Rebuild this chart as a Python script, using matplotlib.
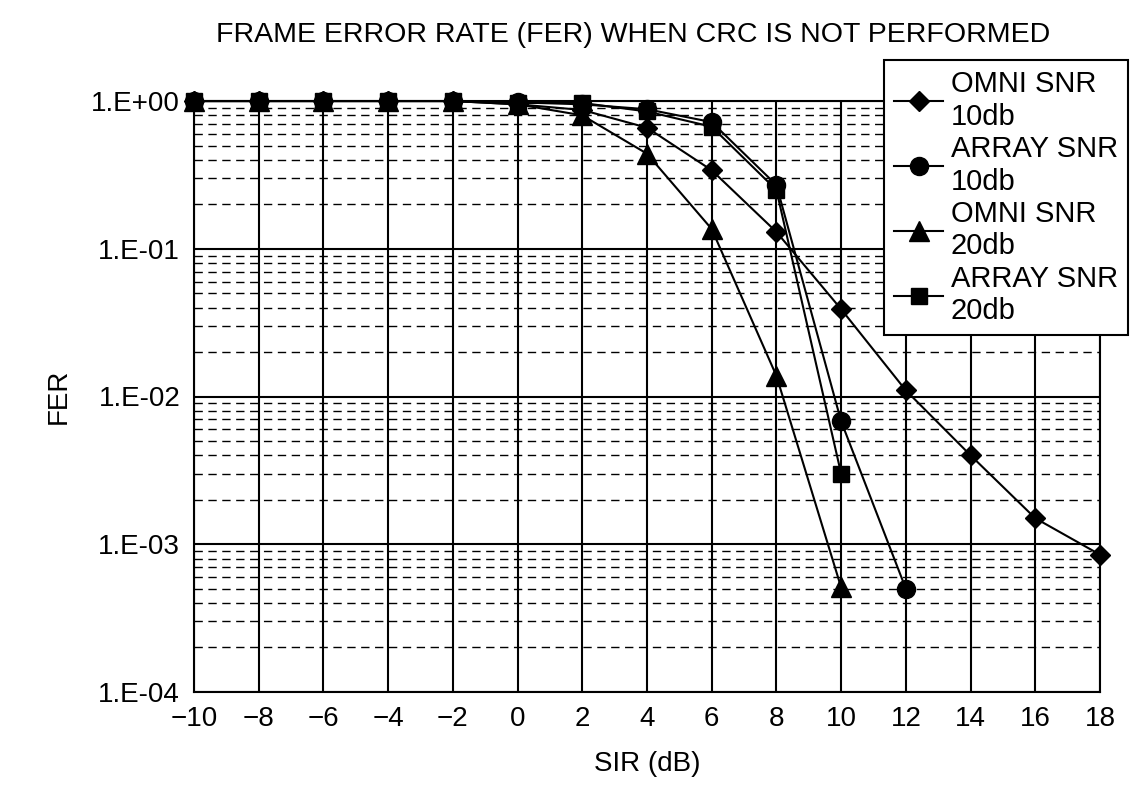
import matplotlib
matplotlib.use("Agg")
import matplotlib.pyplot as plt
from matplotlib.ticker import LogLocator

plt.rcParams['font.family'] = ['Liberation Sans Narrow', 'Liberation Sans', 'DejaVu Sans']

sir = [-10, -8, -6, -4, -2, 0, 2, 4, 6, 8, 10, 12, 14, 16, 18]
omni_10 = [1.0, 1.0, 1.0, 1.0, 1.0, 0.95, 0.87, 0.66, 0.34, 0.13, 0.039, 0.011, 0.0040, 0.0015, 0.00085]
array_10 = [1.0, 1.0, 1.0, 1.0, 1.0, 0.98, 0.95, 0.88, 0.72, 0.27, 0.0068, 0.0005]
omni_20 = [1.0, 1.0, 1.0, 1.0, 1.0, 0.95, 0.80, 0.44, 0.136, 0.0138, 0.00051]
array_20 = [1.0, 1.0, 1.0, 1.0, 1.0, 0.97, 0.97, 0.85, 0.67, 0.25, 0.0030]

ytick_labels = ["1.E-04", "1.E-03", "1.E-02", "1.E-01", "1.E+00"]

fig = plt.figure(figsize=(11.32, 7.93), dpi=100)
ax = fig.add_axes([0.1714, 0.1274, 0.8003, 0.7452])

# triangles sit on top at FER=1 in the original, squares just under them
ax.plot(sir, omni_10, color="black", lw=1.5, marker="D", ms=10, clip_on=False, zorder=3, label="OMNI SNR\n10db")
ax.plot(sir[:len(array_10)], array_10, color="black", lw=1.5, marker="o", ms=13, clip_on=False, zorder=3.1, label="ARRAY SNR\n10db")
ax.plot(sir[:len(omni_20)], omni_20, color="black", lw=1.5, marker="^", ms=14, clip_on=False, zorder=3.3, label="OMNI SNR\n20db")
ax.plot(sir[:len(array_20)], array_20, color="black", lw=1.5, marker="s", ms=11, clip_on=False, zorder=3.2, label="ARRAY SNR\n20db")

ax.set_yscale("log")
ax.set_ylim(1e-4, 1)
ax.set_xlim(-10, 18)
ax.set_xticks(sir)
ax.set_xticklabels([str(v).replace("-", "\u2212") for v in sir])
ax.set_yticks([1e-4, 1e-3, 1e-2, 1e-1, 1])
ax.set_yticklabels(ytick_labels)
ax.yaxis.set_minor_locator(LogLocator(base=10, subs=range(2, 10), numticks=20))
ax.yaxis.set_minor_formatter(plt.NullFormatter())

ax.grid(True, which="major", axis="both", color="black", lw=1.5)
ax.grid(True, which="minor", axis="y", color="black", lw=1.0, ls=(0, (6, 4)))
ax.tick_params(which="both", length=0, labelsize=20, pad=10)
for s in ax.spines.values():
    s.set_linewidth(1.5)

ax.set_xlabel("SIR (dB)", fontsize=20, labelpad=14)
ax.set_ylabel("FER", fontsize=20, labelpad=14)
fig.suptitle("FRAME ERROR RATE (FER) WHEN CRC IS NOT PERFORMED", fontsize=20.5, x=0.559, y=0.972)

leg = ax.legend(loc="upper right", bbox_to_anchor=(0.9965, 0.924), bbox_transform=fig.transFigure,
                borderaxespad=0, fontsize=21, frameon=True, fancybox=False, edgecolor="black",
                framealpha=1, handlelength=1.7, handletextpad=0.25, labelspacing=0.15, borderpad=0.35)
leg.get_frame().set_linewidth(1.5)
leg.set_zorder(5)

fig.savefig("out.png", dpi=100)
